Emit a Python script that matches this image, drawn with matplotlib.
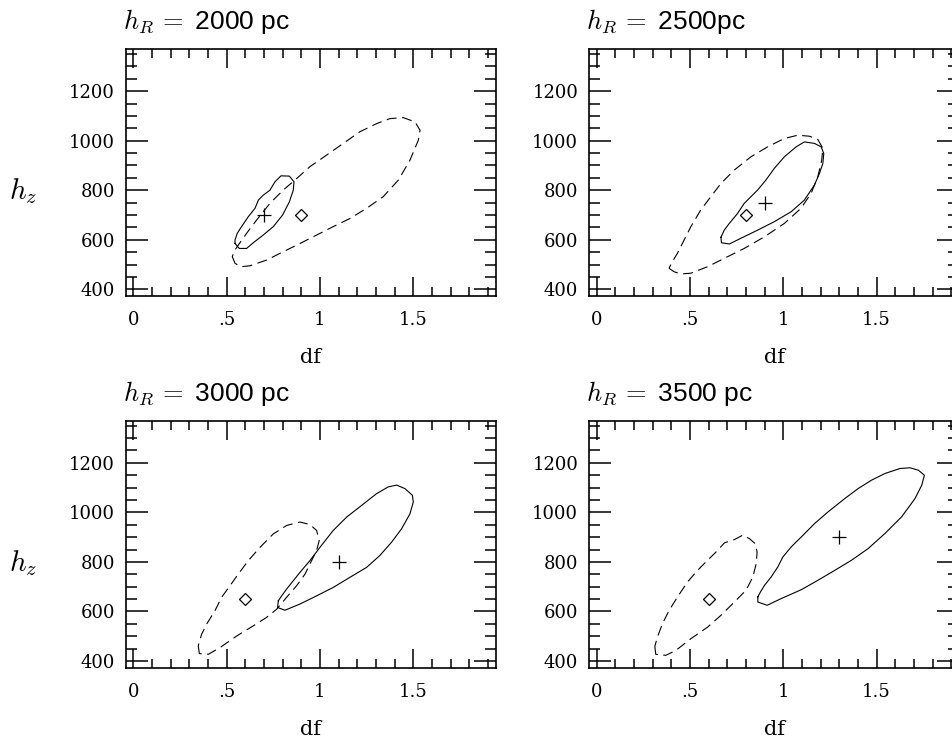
import numpy as np
import matplotlib
matplotlib.use("Agg")
import matplotlib.pyplot as plt
from matplotlib.ticker import MultipleLocator

plt.rcParams['mathtext.fontset'] = 'cm'
plt.rcParams['font.family'] = ['Liberation Sans', 'DejaVu Sans']

# panel titles and markers
titles = [r'$h_R\,=$ 2000 pc', r'$h_R\,=$ 2500pc', r'$h_R\,=$ 3000 pc', r'$h_R\,=$ 3500 pc']
plus_x = [0.7, 0.9, 1.1, 1.3]
plus_y = [700, 750, 800, 900]
diam_x = [0.9, 0.8, 0.6, 0.6]
diam_y = [700, 700, 650, 650]

xticks = [0, 0.5, 1, 1.5]
xticklabels = ['0', '.5', '1', '1.5']
yticks = [400, 600, 800, 1000, 1200]

# solid contours
s1_x = [0.545, 0.568, 0.607, 0.643, 0.696, 0.75, 0.8, 0.836, 0.857, 0.861, 0.836, 0.791,
        0.759, 0.732, 0.696, 0.67, 0.652, 0.616, 0.58, 0.557, 0.545]
s1_y = [585, 565, 565, 588, 619, 653, 700, 753, 800, 834, 857, 858,
        834, 800, 780, 760, 727, 693, 653, 626, 599]
s2_x = [0.666, 0.669, 0.711, 0.773, 0.863, 0.952, 1.042, 1.113, 1.167, 1.194, 1.212, 1.217,
        1.203, 1.167, 1.113, 1.069, 1.006, 0.952, 0.907, 0.863, 0.827, 0.791, 0.755, 0.711, 0.684]
s2_y = [610, 588, 583, 606, 639, 673, 713, 760, 821, 868, 908, 948,
        975, 989, 995, 975, 935, 888, 841, 801, 774, 747, 706, 666, 639]
s3_x = [0.777, 0.773, 0.8125, 0.893, 0.982, 1.071, 1.161, 1.25, 1.321, 1.384, 1.4375, 1.482,
        1.5, 1.495, 1.455, 1.411, 1.366, 1.304, 1.223, 1.143, 1.071, 1.0, 0.946, 0.893,
        0.857, 0.821, 0.795]
s3_y = [643, 616, 605, 630, 663, 697, 738, 778, 826, 880, 934, 994,
        1042, 1069, 1096, 1110, 1103, 1076, 1028, 981, 927, 859, 805, 758,
        724, 690, 663]
s4_x = [0.864, 0.864, 0.914, 0.989, 1.097, 1.186, 1.276, 1.366, 1.455, 1.545, 1.634, 1.706,
        1.742, 1.756, 1.724, 1.679, 1.625, 1.545, 1.473, 1.401, 1.33, 1.24, 1.168, 1.097,
        1.043, 0.998, 0.971, 0.935, 0.9, 0.878]
s4_y = [659, 638, 625, 652, 688, 726, 766, 807, 854, 915, 982, 1056,
        1110, 1150, 1170, 1180, 1177, 1157, 1130, 1096, 1056, 1002, 955, 901,
        861, 820, 780, 739, 706, 679]

# dashed contours
d1_x = [0.530, 0.545, 0.575, 0.625, 0.714, 0.804, 0.893, 0.982, 1.071, 1.161, 1.25, 1.339,
        1.42, 1.482, 1.527, 1.536, 1.509, 1.446, 1.375, 1.304, 1.214, 1.125, 1.036, 0.946,
        0.866, 0.804, 0.732, 0.661, 0.607, 0.563, 0.545]
d1_y = [532, 505, 491, 495, 518, 552, 585, 619, 653, 686, 727, 774,
        841, 921, 1002, 1042, 1076, 1093, 1089, 1069, 1036, 989, 942, 895,
        841, 801, 747, 680, 626, 579, 559]
d2_x = [0.388, 0.415, 0.451, 0.505, 0.594, 0.684, 0.791, 0.899, 1.006, 1.095, 1.149, 1.185,
        1.206, 1.212, 1.185, 1.14, 1.078, 1.006, 0.916, 0.827, 0.737, 0.666, 0.612, 0.558,
        0.505, 0.469, 0.433, 0.406]
d2_y = [485, 471, 462, 465, 491, 525, 565, 612, 666, 727, 787, 854,
        921, 969, 1005, 1018, 1022, 1009, 975, 935, 881, 827, 774, 720,
        653, 599, 545, 512]
d3_x = [0.348, 0.354, 0.402, 0.464, 0.554, 0.643, 0.714, 0.768, 0.821, 0.875, 0.92, 0.955,
        0.982, 0.996, 0.982, 0.946, 0.893, 0.821, 0.75, 0.679, 0.616, 0.5625, 0.518, 0.473,
        0.4375, 0.393, 0.366]
d3_y = [461, 430, 427, 454, 501, 542, 576, 609, 657, 704, 751, 805,
        846, 886, 927, 951, 961, 947, 913, 859, 805, 751, 704, 657,
        603, 549, 508]
d4_x = [0.312, 0.317, 0.371, 0.425, 0.505, 0.595, 0.667, 0.738, 0.801, 0.837, 0.855, 0.86,
        0.849, 0.819, 0.783, 0.738, 0.685, 0.64, 0.595, 0.541, 0.487, 0.434, 0.389, 0.353, 0.326]
d4_y = [459, 427, 423, 443, 490, 537, 585, 638, 686, 739, 793, 840,
        874, 894, 908, 890, 877, 840, 807, 766, 719, 659, 605, 551, 497]

solids = [(s1_x, s1_y), (s2_x, s2_y), (s3_x, s3_y), (s4_x, s4_y)]
dashes = [(d1_x, d1_y), (d2_x, d2_y), (d3_x, d3_y), (d4_x, d4_y)]

W, H = 953, 741
fig = plt.figure(figsize=(W / 100, H / 100), dpi=100)

# panel corners in pixels (left, top)
corners = [(126, 49), (589.3, 49), (126, 420.7), (589.3, 420.7)]
pw, ph = 370, 247

for i in range(4):
    l, t = corners[i]
    ax = fig.add_axes([l / W, (H - t - ph) / H, pw / W, ph / H])
    ax.set_xlim(-0.039, 1.943)
    ax.set_ylim(373, 1370)

    sx, sy = solids[i]
    ax.plot(sx + sx[:1], sy + sy[:1], color='black', lw=0.8)
    dx, dy = dashes[i]
    ax.plot(dx + dx[:1], dy + dy[:1], color='black', lw=0.8, ls=(0, (9, 5)))
    ax.plot(plus_x[i], plus_y[i], marker='+', color='black', ms=10, mew=0.9)
    ax.plot(diam_x[i], diam_y[i], marker='D', color='black', mfc='none', ms=6.5, mew=0.9)

    ax.set_xticks(xticks)
    ax.set_xticklabels(xticklabels)
    ax.set_yticks(yticks)
    ax.xaxis.set_minor_locator(MultipleLocator(0.1))
    ax.yaxis.set_minor_locator(MultipleLocator(50))
    ax.tick_params(axis='both', which='both', direction='in', top=True, right=True,
                   width=1.1, color='black')
    ax.tick_params(axis='x', which='major', length=13.7, pad=11)
    ax.tick_params(axis='x', which='minor', length=6.5)
    ax.tick_params(axis='y', which='major', length=15.8, pad=8)
    ax.tick_params(axis='y', which='minor', length=7.9)
    for lab in ax.get_xticklabels() + ax.get_yticklabels():
        lab.set_family('DejaVu Serif')
        lab.set_fontsize(13)
    for sp in ax.spines.values():
        sp.set_linewidth(1.2)

    ax.text(-0.008, 1.08, titles[i], transform=ax.transAxes, ha='left', va='baseline',
            fontsize=19)
    ax.text(0.5, -0.271, 'df', transform=ax.transAxes, ha='center', va='baseline',
            fontsize=15, family='DejaVu Serif')
    if i % 2 == 0:
        ax.text(-0.278, 0.425, r'$h_z$', transform=ax.transAxes, ha='center', va='center',
                fontsize=21)

fig.savefig('out.png', dpi=100)
